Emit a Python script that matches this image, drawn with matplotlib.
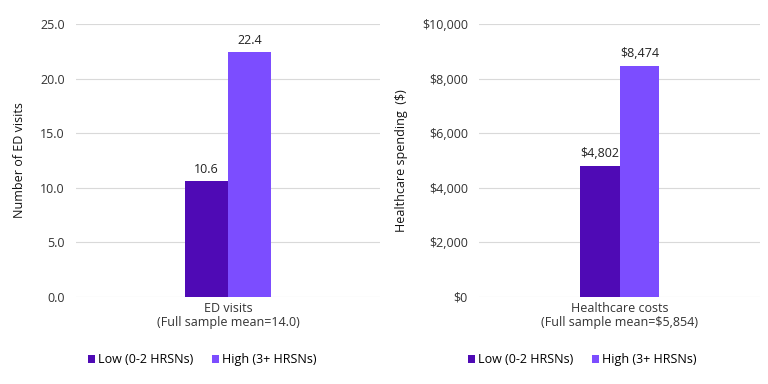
import numpy as np
from matplotlib import pyplot as plt
from matplotlib.ticker import FuncFormatter

plt.rcParams['font.family'] = ['Open Sans', 'DejaVu Sans']
plt.rcParams['font.size'] = 9

groups = ['Low (0-2 HRSNs)', 'High (3+ HRSNs)']
colors = ['#4F0AB5', '#7C4DFF']

ed_category = 'ED visits\n(Full sample mean=14.0)'
ed_values = [10.6, 22.4]

cost_category = 'Healthcare costs\n(Full sample mean=$5,854)'
cost_values = [4802, 8474]


def draw_panel(ax, category, values, ymax, step, ylabel, fmt, lpad, legx):
    width = 0.142
    for i, (name, val) in enumerate(zip(groups, values)):
        x = (i - 0.5) * width
        ax.bar(x, val, width, color=colors[i], label=name, zorder=3)
        ax.text(x, val + ymax * 0.02, fmt(val), ha='center', va='bottom',
                fontsize=9, color='#222222')
    ax.set_xlim(-0.5, 0.5)
    ax.set_ylim(0, ymax)
    ax.set_yticks(np.arange(0, ymax + step / 2, step))
    ax.yaxis.set_major_formatter(FuncFormatter(lambda v, p: fmt(v)))
    ax.set_xticks([0])
    ax.set_xticklabels([category], linespacing=1.1)
    ax.grid(axis='y', color='#D9D9D9', linewidth=0.8, zorder=0)
    for s in ax.spines.values():
        s.set_visible(False)
    ax.tick_params(length=0, colors='#333333', labelsize=9)
    ax.tick_params(axis='y', pad=8)
    ax.set_ylabel(ylabel, fontsize=9, color='#111111', labelpad=lpad)
    ax.legend(loc='upper center', bbox_to_anchor=(legx, -0.165), ncol=2,
              frameon=False, fontsize=9, handlelength=0.6, handleheight=0.6,
              handletextpad=0.2, columnspacing=1.5)


fig = plt.figure(figsize=(7.68, 3.84), dpi=100)
ax1 = fig.add_axes([76 / 768, 1 - 297 / 384, 304 / 768, 273 / 384])
ax2 = fig.add_axes([479 / 768, 1 - 297 / 384, 281 / 768, 273 / 384])

draw_panel(ax1, ed_category, ed_values, 25, 5, 'Number of ED visits',
           lambda v: '{0:.1f}'.format(v), 10, 0.414)
draw_panel(ax2, cost_category, cost_values, 10000, 2000,
           'Healthcare spending  ($)', lambda v: '${0:,.0f}'.format(v), 10,
           0.367)

plt.savefig('out.png', dpi=100)
